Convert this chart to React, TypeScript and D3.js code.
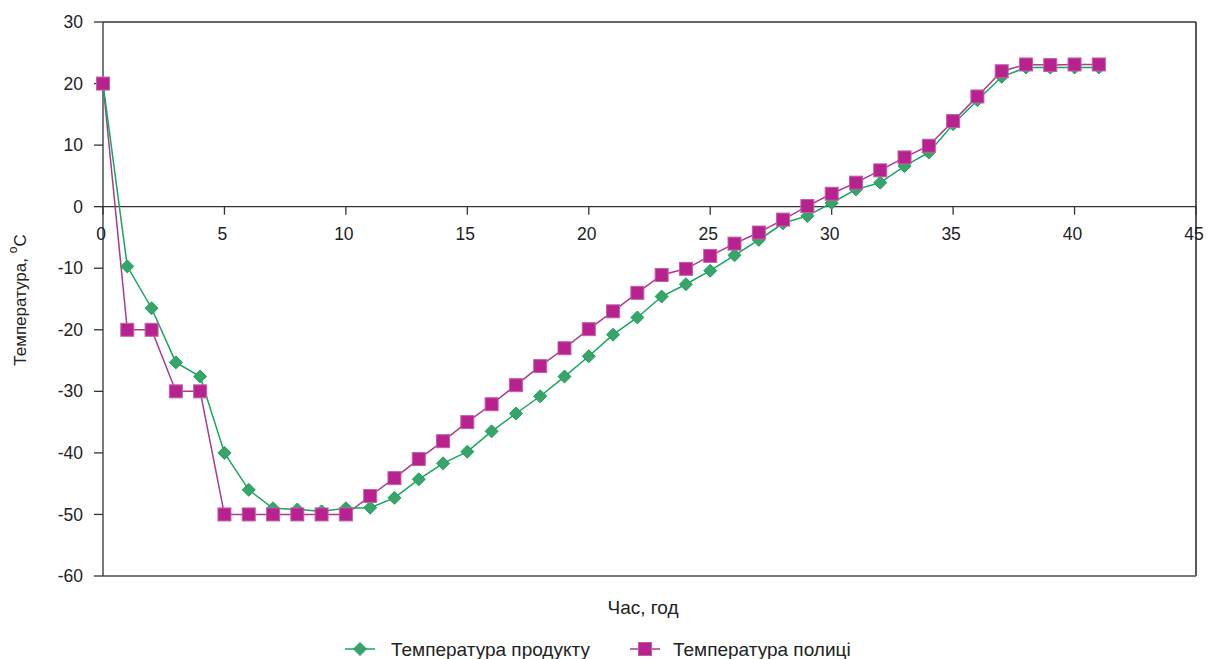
import React from "react";
import * as d3 from "d3";

const hours = Array.from({ length: 42 }, (_, i) => i);
const productTemp = [20, -9.7, -16.5, -25.3, -27.6, -40, -46, -49, -49.2, -49.5, -49, -48.9, -47.3, -44.3, -41.7, -39.8, -36.5, -33.6, -30.8, -27.6, -24.3, -20.8, -18.0, -14.6, -12.6, -10.4, -7.9, -5.4, -2.7, -1.5, 0.6, 2.8, 3.9, 6.6, 8.8, 13.4, 17.3, 21.1, 22.6, 22.6, 22.6, 22.6];
const shelfTemp = [20, -20, -20, -30, -30, -50, -50, -50, -50, -50, -50, -47, -44.1, -41, -38.1, -35, -32.1, -29, -25.9, -23, -19.9, -17, -14, -11.1, -10.1, -8, -6, -4.2, -2.1, 0.1, 2.1, 3.9, 5.9, 8, 9.9, 13.9, 17.9, 22, 23.1, 23, 23.1, 23.1];
const xTicks = [0, 5, 10, 15, 20, 25, 30, 35, 40, 45];
const yTicks = [30, 20, 10, 0, -10, -20, -30, -40, -50, -60];
const seriesNames = ["Температура продукту", "Температура полиці"];
const xTitle = "Час, год";

const W = 1208, H = 659;
const L = 103, R = 1196, T = 22, B = 576;
const GREEN = "#14a85c";
const GREEN_FILL = "#3aa36a";
const MAG = "#a83c8e";
const MAG_FILL = "#b8228f";
const FONT = "'Liberation Sans', Arial, sans-serif";

export default function App() {
  const x = d3.scaleLinear().domain([0, 45]).range([L, R]);
  const y = d3.scaleLinear().domain([-60, 30]).range([B, T]);
  const line = d3.line<number>().x((_, i) => x(hours[i])).y((d) => y(d));
  const y0 = y(0);
  const diamond = (cx: number, cy: number, r: number) => `M${cx},${cy - r}L${cx + r},${cy}L${cx},${cy + r}L${cx - r},${cy}Z`;

  return (
    <svg width={W} height={H} style={{ position: "absolute", left: 0, top: 0, background: "#fff" }} fontFamily={FONT}>
      {/* frame */}
      <line x1={L} y1={T} x2={R} y2={T} stroke="#333" strokeWidth={1.5} />
      <line x1={R} y1={T} x2={R} y2={B} stroke="#222" strokeWidth={1.5} />
      <line x1={L} y1={B} x2={R} y2={B} stroke="#777" strokeWidth={2} />
      {/* y axis */}
      <line x1={L} y1={T} x2={L} y2={B} stroke="#333" strokeWidth={1.3} />
      {yTicks.map((t) => (
        <g key={t}>
          <line x1={L - 9} x2={L} y1={y(t)} y2={y(t)} stroke="#333" strokeWidth={1.3} />
          <text x={L - 20} y={y(t)} dy="0.35em" textAnchor="end" fontSize={17.5} fill="#222">{t}</text>
        </g>
      ))}
      {/* x axis at zero */}
      <line x1={L} y1={y0} x2={R} y2={y0} stroke="#333" strokeWidth={1.3} />
      {xTicks.map((t) => (
        <g key={t}>
          <line x1={x(t)} x2={x(t)} y1={y0} y2={y0 + 8} stroke="#333" strokeWidth={1.3} />
          <text x={x(t) - 2} y={y0 + 33} textAnchor="middle" fontSize={17.5} fill="#222">{t}</text>
        </g>
      ))}
      {/* axis titles */}
      <text transform={`translate(26,300) rotate(-90)`} textAnchor="middle" fontSize={17} fill="#222">
        Температура, <tspan dy={-9} fontSize={12}>o</tspan><tspan dy={9}>C</tspan>
      </text>
      <text x={643} y={614} textAnchor="middle" fontSize={19} fill="#222">{xTitle}</text>
      {/* series */}
      <path d={line(shelfTemp) || ""} fill="none" stroke={MAG} strokeWidth={1.5} />
      <path d={line(productTemp) || ""} fill="none" stroke={GREEN} strokeWidth={1.5} />
      {productTemp.map((v, i) => (
        <path key={"p" + i} d={diamond(x(hours[i]), y(v), 6.5)} fill={GREEN_FILL} stroke={GREEN} strokeWidth={1} />
      ))}
      {shelfTemp.map((v, i) => (
        <rect key={"s" + i} x={x(hours[i]) - 6.5} y={y(v) - 6.5} width={13} height={13} fill={MAG_FILL} stroke="#c45fa8" strokeWidth={1} />
      ))}
      {/* legend */}
      <g>
        <line x1={345} x2={375} y1={649} y2={649} stroke={GREEN} strokeWidth={1.5} />
        <path d={diamond(360, 649, 6.5)} fill={GREEN_FILL} stroke={GREEN} strokeWidth={1} />
        <text x={391} y={649} dy="0.35em" fontSize={19} fill="#222">{seriesNames[0]}</text>
        <line x1={630} x2={660} y1={649} y2={649} stroke={MAG} strokeWidth={1.5} />
        <rect x={645 - 6.5} y={649 - 6.5} width={13} height={13} fill={MAG_FILL} stroke="#c45fa8" strokeWidth={1} />
        <text x={673} y={649} dy="0.35em" fontSize={19} fill="#222">{seriesNames[1]}</text>
      </g>
    </svg>
  );
}
